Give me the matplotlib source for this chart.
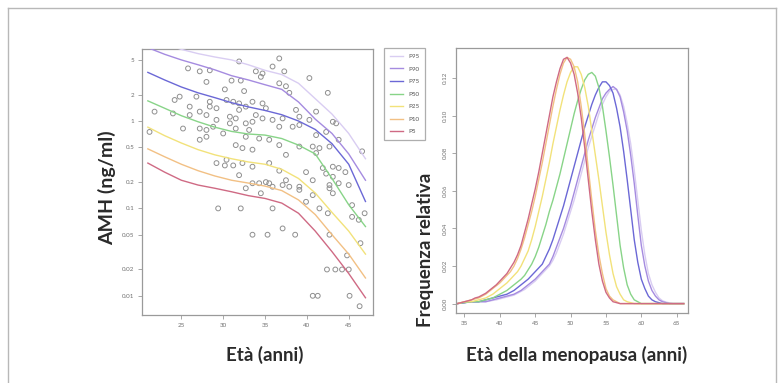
import matplotlib
matplotlib.use("Agg")
import matplotlib.pyplot as plt
from matplotlib.lines import Line2D

# ---------------- data ----------------
labels = ["P95", "P90", "P75", "P50", "P25", "P10", "P5"]
colors = ["#d9cdf2", "#a58be0", "#6b68d6", "#88d488", "#f2e27a", "#f2c084", "#cf6a84"]

# left panel: AMH percentile curves vs age
curve_age = [21, 23, 25, 27, 29, 31, 33, 35, 37, 39, 41, 43, 45, 47]
amh_p95 = [9.0, 7.6, 6.6, 5.9, 5.4, 5.0, 4.4, 3.8, 3.4, 2.7, 1.8, 1.2, 0.72, 0.37]
amh_p90 = [6.9, 5.8, 5.0, 4.4, 3.85, 3.3, 2.95, 2.6, 2.3, 1.65, 1.05, 0.72, 0.42, 0.21]
amh_p75 = [3.6, 2.95, 2.45, 2.1, 1.85, 1.62, 1.45, 1.32, 1.18, 1.0, 0.8, 0.55, 0.32, 0.12]
amh_p50 = [1.7, 1.4, 1.15, 0.98, 0.85, 0.76, 0.71, 0.69, 0.63, 0.53, 0.42, 0.22, 0.11, 0.062]
amh_p25 = [0.85, 0.68, 0.56, 0.47, 0.41, 0.37, 0.34, 0.32, 0.28, 0.22, 0.15, 0.09, 0.055, 0.03]
amh_p10 = [0.48, 0.39, 0.32, 0.27, 0.235, 0.21, 0.195, 0.18, 0.16, 0.125, 0.085, 0.05, 0.03, 0.016]
amh_p5 = [0.33, 0.26, 0.21, 0.185, 0.17, 0.155, 0.14, 0.13, 0.115, 0.088, 0.055, 0.032, 0.018, 0.0095]
amh_curves = [amh_p95, amh_p90, amh_p75, amh_p50, amh_p25, amh_p10, amh_p5]

# left panel: observed samples
obs_age = [36.7, 31.9, 35.9, 37.3, 25.8, 27.2, 28.4, 33.9, 34.7, 28.0, 31.0, 32.1, 34.5,
           36.7, 40.3, 37.5, 37.9, 30.2, 32.5, 42.5, 24.8, 26.8, 24.2, 28.4, 30.4, 31.2,
           31.9, 33.5, 34.7, 35.1, 32.7, 29.2, 28.4, 26.0, 21.8, 24.0, 27.2, 28.0, 26.0,
           31.9, 33.9, 34.7, 35.9, 37.1, 38.7, 39.1, 40.3, 41.1, 43.1, 43.5, 30.8, 31.5,
           29.2, 30.8, 32.7, 33.5, 36.7, 38.3, 39.1, 25.2, 27.2, 28.0, 28.8, 31.5, 33.1,
           21.2, 28.0, 30.0, 32.7, 34.3, 35.5, 41.1, 42.3, 27.2, 31.5, 32.3, 33.5, 36.7,
           39.1, 40.7, 41.5, 37.5, 46.6, 43.8, 41.1, 42.7, 29.2, 30.2, 30.4, 31.2, 32.3,
           33.5, 35.5, 31.9, 36.7, 39.9, 41.9, 43.1, 43.8, 44.6, 42.3, 43.1, 33.5, 34.3,
           35.5, 37.5, 40.7, 42.7, 43.8, 45.0, 39.1,
           29.4, 32.1, 35.9, 33.5, 35.3, 37.1, 38.6, 39.9, 41.5, 42.5, 42.7, 42.4, 43.4,
           44.2, 45.0, 44.8, 40.7, 41.3, 45.1, 46.3, 45.4, 46.2, 46.4, 46.9, 45.4, 43.1,
           42.7, 40.7, 39.1, 37.1, 32.7, 34.5, 35.9, 37.9, 35.1]
obs_amh = [5.2, 4.8, 4.2, 3.7, 4.0, 3.7, 3.8, 3.7, 3.5, 2.8, 2.9, 2.9, 3.2,
           2.7, 3.1, 2.5, 2.1, 2.3, 2.2, 2.1, 1.9, 1.9, 1.74, 1.66, 1.74, 1.66,
           1.59, 1.66, 1.59, 1.40, 1.46, 1.40, 1.46, 1.46, 1.28, 1.22, 1.28, 1.17, 1.17,
           1.34, 1.17, 1.07, 1.03, 1.07, 1.34, 1.12, 1.03, 1.28, 0.98, 0.94, 1.12, 1.07,
           1.03, 0.94, 0.94, 0.98, 0.86, 0.86, 0.90, 0.82, 0.82, 0.79, 0.86, 0.82, 0.79,
           0.75, 0.66, 0.72, 0.66, 0.63, 0.61, 0.69, 0.75, 0.61, 0.53, 0.49, 0.47, 0.53,
           0.51, 0.51, 0.49, 0.41, 0.45, 0.61, 0.43, 0.51, 0.33, 0.31, 0.36, 0.31, 0.33,
           0.30, 0.33, 0.24, 0.27, 0.26, 0.29, 0.30, 0.29, 0.26, 0.25, 0.23, 0.194, 0.194,
           0.194, 0.21, 0.21, 0.185, 0.194, 0.185, 0.177,
           0.100, 0.100, 0.100, 0.050, 0.050, 0.059, 0.050, 0.119, 0.100, 0.088, 0.050, 0.020, 0.020,
           0.020, 0.020, 0.029, 0.010, 0.010, 0.010, 0.0076, 0.109, 0.074, 0.040, 0.088, 0.080, 0.149,
           0.17, 0.142, 0.163, 0.185, 0.17, 0.149, 0.177, 0.177, 0.20]

amh_ticks = [0.01, 0.02, 0.05, 0.1, 0.2, 0.5, 1, 2, 5]
amh_ticklabels = ["0.01", "0.02", "0.05", "0.1", "0.2", "0.5", "1", "2", "5"]
age_ticks = [25, 30, 35, 40, 45]

# right panel: relative frequency of age at menopause (half-year grid)
meno_age = [34.0, 34.5, 35.0, 35.5, 36.0, 36.5, 37.0, 37.5, 38.0, 38.5, 39.0, 39.5, 40.0,
            40.5, 41.0, 41.5, 42.0, 42.5, 43.0, 43.5, 44.0, 44.5, 45.0, 45.5, 46.0, 46.5,
            47.0, 47.5, 48.0, 48.5, 49.0, 49.5, 50.0, 50.5, 51.0, 51.5, 52.0, 52.5, 53.0,
            53.5, 54.0, 54.5, 55.0, 55.5, 56.0, 56.5, 57.0, 57.5, 58.0, 58.5, 59.0, 59.5,
            60.0, 60.5, 61.0, 61.5, 62.0, 62.5, 63.0, 63.5, 64.0, 64.5, 65.0, 65.5, 66.0]
freq_p95 = [0, .0003, .0005, .0007, .0009, .001, .001, .001, .001, .0013, .0017, .002, .0025,
            .003, .0035, .004, .0045, .0055, .0065, .0075, .009, .0105, .012, .014, .016, .018,
            .020, .023, .027, .032, .037, .043, .049, .055, .062, .069, .076, .083, .089,
            .095, .101, .106, .110, .113, .114, .114, .111, .105, .096, .085, .071, .055,
            .039, .026, .016, .010, .006, .003, .0015, .0008, .0004, 0, 0, 0, 0]
freq_p90 = [0, .0003, .0005, .0008, .001, .001, .001, .001, .001, .0015, .002, .0025, .003,
            .0035, .004, .0045, .005, .006, .007, .0085, .010, .0115, .013, .015, .017, .019,
            .021, .025, .030, .035, .040, .046, .052, .059, .066, .073, .080, .087, .093,
            .099, .104, .109, .112, .114, .1155, .114, .110, .102, .092, .079, .064, .047,
            .031, .020, .012, .007, .004, .002, .001, .0005, 0, 0, 0, 0, 0]
freq_p75 = [0, .0003, .0005, .0008, .001, .001, .001, .0015, .002, .0025, .003, .0035, .004,
            .0045, .005, .006, .007, .0085, .010, .0115, .013, .015, .017, .019, .021, .025,
            .029, .034, .040, .046, .052, .059, .066, .073, .080, .087, .094, .100, .106,
            .111, .115, .118, .118, .116, .112, .104, .094, .081, .066, .050, .034, .022,
            .013, .008, .004, .002, .001, .0005, 0, 0, 0, 0, 0, 0, 0]
freq_p50 = [0, .0003, .0005, .0008, .001, .001, .001, .0015, .002, .0025, .003, .004, .005,
            .006, .007, .0085, .010, .0115, .013, .015, .018, .021, .025, .030, .036, .042,
            .049, .055, .062, .069, .077, .085, .093, .101, .108, .114, .119, .122, .123,
            .121, .115, .105, .092, .078, .063, .047, .031, .019, .010, .005, .002, .001,
            0, 0, 0, 0, 0, 0, 0, 0, 0, 0, 0, 0, 0]
freq_p25 = [0, .0005, .001, .001, .001, .0015, .002, .0025, .003, .004, .005, .0065, .008,
            .0095, .011, .013, .015, .017, .020, .024, .028, .034, .041, .049, .057, .066,
            .075, .085, .094, .103, .111, .118, .123, .126, .126, .122, .115, .105, .092,
            .079, .066, .052, .038, .026, .016, .009, .005, .002, .001, .0005, 0, 0,
            0, 0, 0, 0, 0, 0, 0, 0, 0, 0, 0, 0, 0]
freq_p10 = [0, .0005, .001, .0015, .002, .0025, .003, .004, .005, .0065, .008, .0095, .011,
            .013, .015, .017, .020, .024, .029, .035, .042, .049, .057, .066, .075, .085,
            .095, .105, .114, .122, .128, .131, .130, .126, .118, .105, .090, .072, .055,
            .039, .026, .016, .008, .004, .002, .001, 0, 0, 0, 0, 0, 0,
            0, 0, 0, 0, 0, 0, 0, 0, 0, 0, 0, 0, 0]
freq_p5 = [0, .0005, .001, .0015, .002, .003, .0035, .0045, .0055, .007, .0085, .010, .012,
           .014, .016, .019, .022, .026, .031, .038, .045, .053, .061, .070, .080, .090,
           .100, .110, .118, .125, .130, .131, .128, .122, .112, .099, .083, .066, .049,
           .034, .021, .012, .006, .003, .001, .0005, 0, 0, 0, 0, 0, 0,
           0, 0, 0, 0, 0, 0, 0, 0, 0, 0, 0, 0, 0]
freq_curves = [freq_p95, freq_p90, freq_p75, freq_p50, freq_p25, freq_p10, freq_p5]
meno_ticks = [35, 40, 45, 50, 55, 60, 65]
freq_ticks = [0.0, 0.02, 0.04, 0.06, 0.08, 0.10, 0.12]
freq_ticklabels = ["0.00", "0.02", "0.04", "0.06", "0.08", "0.10", "0.12"]

# ---------------- figure ----------------
plt.rcParams['font.family'] = ['Lato', 'DejaVu Sans']
W, H = 784, 383
fig = plt.figure(figsize=(W / 100, H / 100), dpi=100)
fig.patch.set_facecolor("white")

def fx(px):
    return px / W

def fy(py):
    return 1 - py / H

# outer frame
for (x0, y0, x1, y1) in [(8, 8, 776, 8), (8, 8, 8, 383), (776, 8, 776, 383)]:
    fig.add_artist(Line2D([fx(x0), fx(x1)], [fy(y0), fy(y1)], color="#b8b8b8", lw=1.0))

frame_col = "#9a9a9a"
tick_col = "#707070"
label_col = "#2a2a2a"

def style_axes(ax):
    for s in ax.spines.values():
        s.set_color(frame_col)
        s.set_linewidth(0.9)
    ax.tick_params(axis="both", which="both", direction="out", length=3, width=0.6,
                   color=frame_col, labelcolor=tick_col, labelsize=4.5, pad=2.5)

# left axes
ax1 = fig.add_axes([fx(142), fy(315), fx(373) - fx(142), fy(49) - fy(315)])
ax1.set_yscale("log")
ax1.scatter(obs_age, obs_amh, s=12, facecolors="none", edgecolors="#8f8f8f", linewidths=0.7, zorder=2)
for vals, c in zip(amh_curves, colors):
    ax1.plot(curve_age, vals, color=c, lw=1.0, zorder=3)
ax1.set_xlim(20.3, 47.9)
ax1.set_ylim(10 ** (-(315 - 121) / 87.4), 10 ** ((121 - 49) / 87.4))
ax1.set_xticks(age_ticks)
ax1.set_yticks(amh_ticks)
ax1.set_yticklabels(amh_ticklabels)
ax1.yaxis.set_minor_locator(matplotlib.ticker.NullLocator())
style_axes(ax1)
ax1.set_xlabel("Età (anni)", fontsize=13.5, fontweight="bold", color=label_col)
ax1.xaxis.set_label_coords((265 - 142) / 231, (315 - 355) / 266)
ax1.xaxis.label.set_va("center")
ax1.set_ylabel("AMH (ng/ml)", fontsize=14, fontweight="bold", color=label_col)
ax1.yaxis.set_label_coords((107 - 142) / 231, (315 - 188) / 266)
ax1.yaxis.label.set_va("center")

# right axes
ax2 = fig.add_axes([fx(456), fy(313), fx(688) - fx(456), fy(48) - fy(313)])
for vals, c in zip(freq_curves, colors):
    ax2.plot(meno_age, vals, color=c, lw=1.0)
ax2.set_xlim(33.8, 66.6)
ax2.set_ylim(-0.005, 0.136)
ax2.set_xticks(meno_ticks)
ax2.set_yticks(freq_ticks)
ax2.set_yticklabels(freq_ticklabels, rotation=90, va="center")
style_axes(ax2)
ax2.set_xlabel("Età della menopausa (anni)", fontsize=13.5, fontweight="bold", color=label_col)
ax2.xaxis.set_label_coords((577 - 456) / 232, (313 - 355) / 265)
ax2.xaxis.label.set_va("center")
ax2.set_ylabel("Frequenza relativa", fontsize=13.5, fontweight="bold", color=label_col)
ax2.yaxis.set_label_coords((426 - 456) / 232, (313 - 250) / 265)
ax2.yaxis.label.set_va("center")

# legend
handles = [Line2D([0], [0], color=c, lw=1.0) for c in colors]
leg = fig.legend(handles, labels, loc="upper left", bbox_to_anchor=(fx(384), fy(48)),
                 fontsize=4.5, frameon=True, fancybox=False, edgecolor=frame_col,
                 handlelength=2.2, handletextpad=0.8, labelspacing=1.15, borderpad=0.9,
                 borderaxespad=0)
for t in leg.get_texts():
    t.set_color("#555555")
leg.get_frame().set_linewidth(0.9)

fig.savefig("out.png", dpi=100, facecolor="white")
